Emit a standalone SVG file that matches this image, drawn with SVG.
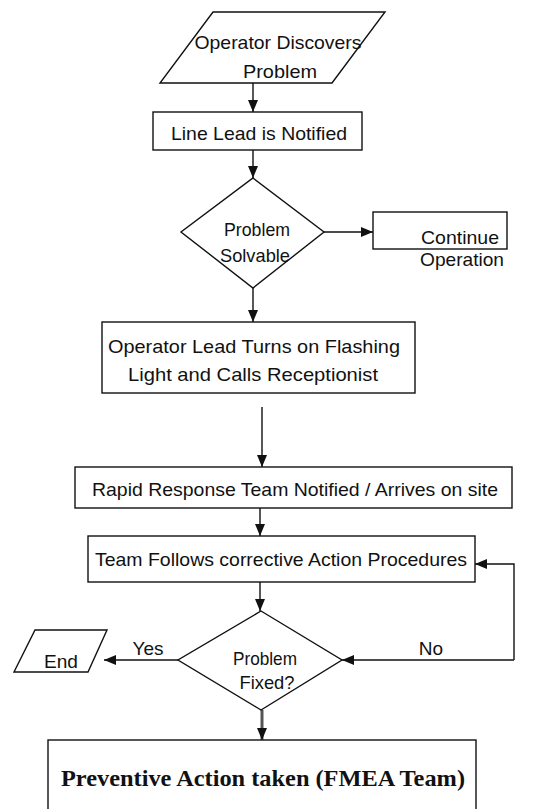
<svg xmlns="http://www.w3.org/2000/svg" width="537" height="809" viewBox="0 0 537 809">
<defs>
<marker id="ah" viewBox="0 0 12 10" refX="12" refY="5" markerWidth="12" markerHeight="10" markerUnits="userSpaceOnUse" orient="auto">
<path d="M0,0 L12,5 L0,10 Z" fill="#111"/>
</marker>
</defs>
<style>
.shape{fill:#fff;stroke:#111;stroke-width:1.4}
.conn{fill:none;stroke:#111;stroke-width:1.4}
.t{font-family:"Liberation Sans",Arial,sans-serif;font-size:19px;fill:#111;text-anchor:middle}
.s{font-family:"Liberation Serif","Times New Roman",serif;font-size:24px;font-weight:bold;fill:#111;text-anchor:middle}
</style>
<rect width="537" height="809" fill="#fff"/>
<g id="connectors">
<line class="conn" x1="253" y1="83" x2="253" y2="112" marker-end="url(#ah)"/>
<line class="conn" x1="253" y1="150" x2="253" y2="178" marker-end="url(#ah)"/>
<line class="conn" x1="324" y1="232" x2="373" y2="232" marker-end="url(#ah)"/>
<line class="conn" x1="253" y1="288" x2="253" y2="322" marker-end="url(#ah)"/>
<line class="conn" x1="262" y1="407" x2="262" y2="467" marker-end="url(#ah)"/>
<line class="conn" x1="260" y1="508" x2="260" y2="536" marker-end="url(#ah)"/>
<line class="conn" x1="260" y1="582" x2="260" y2="611" marker-end="url(#ah)"/>
<line class="conn" x1="514" y1="660" x2="342" y2="660" marker-end="url(#ah)"/>
<polyline class="conn" points="514,660 514,564 475,564" marker-end="url(#ah)"/>
<line class="conn" x1="178" y1="660" x2="104" y2="660" marker-end="url(#ah)"/>
<line x1="262" y1="710" x2="262" y2="740" stroke="#555" stroke-width="3" marker-end="url(#ah)"/>
<text class="t" x="148" y="655">Yes</text>
<text class="t" x="431" y="655">No</text>
</g>
<g id="start">
<polygon class="shape" points="213,12 385,12 332,83 160,83"/>
<text class="t" x="278" y="49" textLength="167" lengthAdjust="spacingAndGlyphs">Operator Discovers</text>
<text class="t" x="280" y="78" textLength="74" lengthAdjust="spacingAndGlyphs">Problem</text>
</g>
<g id="lineLead">
<rect class="shape" x="153" y="112" width="209" height="38"/>
<text class="t" x="259" y="140" textLength="176" lengthAdjust="spacingAndGlyphs">Line Lead is Notified</text>
</g>
<g id="solvable">
<polygon class="shape" points="253,178 324,232 253,288 181,232"/>
<text class="t" x="257" y="236" textLength="66" lengthAdjust="spacingAndGlyphs">Problem</text>
<text class="t" x="255" y="262" textLength="70" lengthAdjust="spacingAndGlyphs">Solvable</text>
</g>
<g id="continue">
<rect class="shape" x="373" y="212" width="134" height="37"/>
<text class="t" x="460" y="244" textLength="78" lengthAdjust="spacingAndGlyphs">Continue</text>
<text class="t" x="462" y="266" textLength="84" lengthAdjust="spacingAndGlyphs">Operation</text>
</g>
<g id="operatorLead">
<rect class="shape" x="102" y="322" width="313" height="71"/>
<text class="t" x="254" y="353" textLength="292" lengthAdjust="spacingAndGlyphs">Operator Lead Turns on Flashing</text>
<text class="t" x="253" y="381" textLength="250" lengthAdjust="spacingAndGlyphs">Light and Calls Receptionist</text>
</g>
<g id="rapid">
<rect class="shape" x="75" y="467" width="437" height="41"/>
<text class="t" x="295" y="496" textLength="406" lengthAdjust="spacingAndGlyphs">Rapid Response Team Notified / Arrives on site</text>
</g>
<g id="follows">
<rect class="shape" x="88" y="536" width="387" height="46"/>
<text class="t" x="281" y="566" textLength="372" lengthAdjust="spacingAndGlyphs">Team Follows corrective Action Procedures</text>
</g>
<g id="fixed">
<polygon class="shape" points="261,611 342,660 261,710 178,660"/>
<text class="t" x="265" y="665" textLength="64" lengthAdjust="spacingAndGlyphs">Problem</text>
<text class="t" x="267" y="689" textLength="55" lengthAdjust="spacingAndGlyphs">Fixed?</text>
</g>
<g id="end">
<polygon class="shape" points="35,630 107,630 88,672 14,672"/>
<text class="t" x="61" y="668" textLength="34" lengthAdjust="spacingAndGlyphs">End</text>
</g>
<g id="preventive">
<rect class="shape" x="48" y="740" width="428" height="70" stroke-width="2.5"/>
<text class="s" x="263" y="786" textLength="404" lengthAdjust="spacingAndGlyphs">Preventive Action taken (FMEA Team)</text>
</g>
</svg>
